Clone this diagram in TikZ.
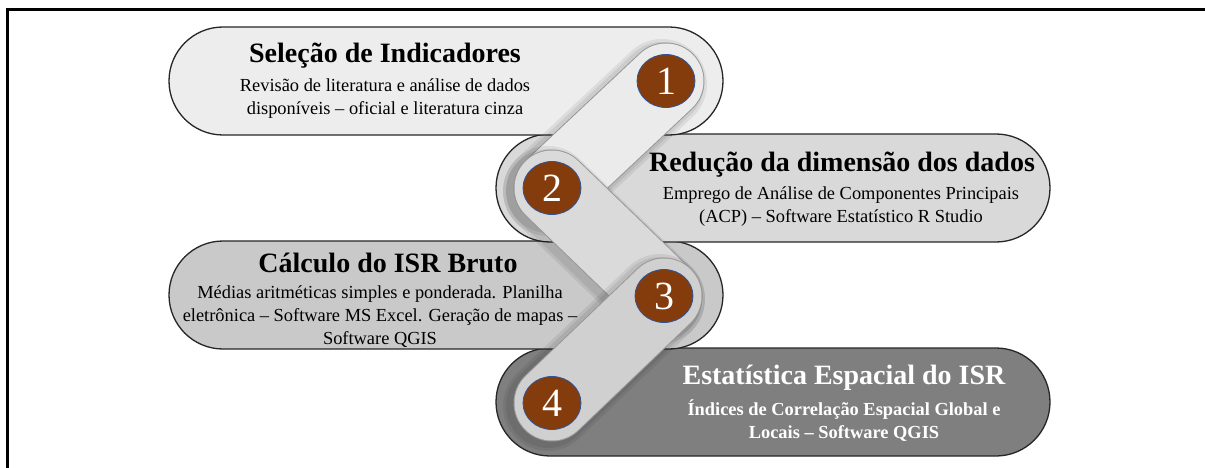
\documentclass[tikz,border=0pt]{standalone}
\usepackage{fontspec}
\setmainfont{Liberation Serif}
\usepackage{tikz}
\usetikzlibrary{shapes.misc, shapes.geometric}
\usepackage{xcolor}

\definecolor{marrom}{HTML}{843C0C}
\definecolor{azulborda}{HTML}{2F5597}
\definecolor{cinzaUm}{HTML}{EDEDED}
\definecolor{cinzaDois}{HTML}{D9D9D9}
\definecolor{cinzaTres}{HTML}{C9C9C9}
\definecolor{cinzaQuatro}{HTML}{7F7F7F}
\definecolor{eloUm}{HTML}{EBEBEB}
\definecolor{eloDois}{HTML}{DADADA}
\definecolor{eloTres}{HTML}{D0D0D0}

\pgfdeclarelayer{fundo}
\pgfdeclarelayer{elos}
\pgfsetlayers{fundo,elos,main}

\begin{document}
\begin{tikzpicture}[x=1pt, y=-1pt,
    faixa/.style={rounded rectangle, draw=black!85, line width=1.3pt,
      minimum width=554pt, minimum height=108pt, inner sep=0pt},
    titulo/.style={font=\fontsize{28}{32}\selectfont\bfseries, inner sep=0pt},
    corpo/.style={font=\fontsize{18.4}{23}\selectfont, align=center, inner sep=0pt},
    numero/.style={ellipse, fill=marrom, draw=azulborda, line width=0.8pt,
      minimum width=58pt, minimum height=53pt, inner sep=0pt, text=white,
      font=\fontsize{40}{40}\selectfont},
    sombra/.style={line width=#1, line cap=round, black, opacity=0.07},
    borda/.style={line width=77pt, line cap=round, black!40},
    elo/.style={line width=75pt, line cap=round}]
        \useasboundingbox (0,0) rectangle (1205,468);

        % Moldura
        \draw[line width=3pt] (7,468) -- (7,10) -- (1205,10);

        % Faixas (de baixo para cima)
        \begin{pgfonlayer}{fundo}
          \node[faixa, fill=cinzaQuatro] (b4) at (773,402) {};
          \node[faixa, fill=cinzaTres] (b3) at (446,295) {};
          \node[faixa, fill=cinzaDois] (b2) at (773,188) {};
          \node[faixa, fill=cinzaUm] (b1) at (446,81) {};
        \end{pgfonlayer}

        % Numeros
        \node[numero] (c1) at (666,81) {1};
        \node[numero] (c2) at (552,188) {2};
        \node[numero] (c3) at (664,296) {3};
        \node[numero] (c4) at (552,403) {4};

        % Elos entre os numeros
        \begin{pgfonlayer}{elos}
          \draw[sombra=90pt] ([shift={(-4,3)}]c1.center) -- ([shift={(-4,3)}]c2.center);
          \draw[sombra=84pt] ([shift={(-4,3)}]c1.center) -- ([shift={(-4,3)}]c2.center);
          \draw[borda] (c1.center) -- (c2.center);
          \draw[elo, eloUm] (c1.center) -- (c2.center);

          \draw[sombra=90pt] ([shift={(-4,3)}]c2.center) -- ([shift={(-4,3)}]c3.center);
          \draw[sombra=84pt] ([shift={(-4,3)}]c2.center) -- ([shift={(-4,3)}]c3.center);
          \draw[borda] (c2.center) -- (c3.center);
          \draw[elo, eloDois] (c2.center) -- (c3.center);

          \draw[sombra=90pt] ([shift={(-4,3)}]c3.center) -- ([shift={(-4,3)}]c4.center);
          \draw[sombra=84pt] ([shift={(-4,3)}]c3.center) -- ([shift={(-4,3)}]c4.center);
          \draw[borda] (c3.center) -- (c4.center);
          \draw[elo, eloTres] (c3.center) -- (c4.center);
        \end{pgfonlayer}

        % Primeira etapa
        \node[titulo] (t1) at (385,56) {Seleção de Indicadores};
        \node[corpo] (d1) at (385,99) {Revisão de literatura e análise de dados\\
          disponíveis – oficial e literatura cinza};

        % Segunda etapa
        \node[titulo] (t2) at (842,165) {Redução da dimensão dos dados};
        \node[corpo] (d2) at (841,207) {Emprego de Análise de Componentes Principais\\
          (ACP) – Software Estatístico R Studio};

        % Terceira etapa
        \node[titulo] (t3) at (388,263) {Cálculo do ISR Bruto};
        \node[corpo] (d3) at (380,317) {Médias aritméticas simples e ponderada. Planilha\\
          eletrônica – Software MS Excel. Geração de mapas –\\
          Software QGIS};

        % Quarta etapa
        \node[titulo, text=white] (t4) at (844,378) {Estatística Espacial do ISR};
        \node[corpo, text=white, font=\fontsize{18.4}{23}\selectfont\bfseries] (d4) at (844,421)
          {Índices de Correlação Espacial Global e\\ Locais – Software QGIS};
    \end{tikzpicture}
\end{document}
